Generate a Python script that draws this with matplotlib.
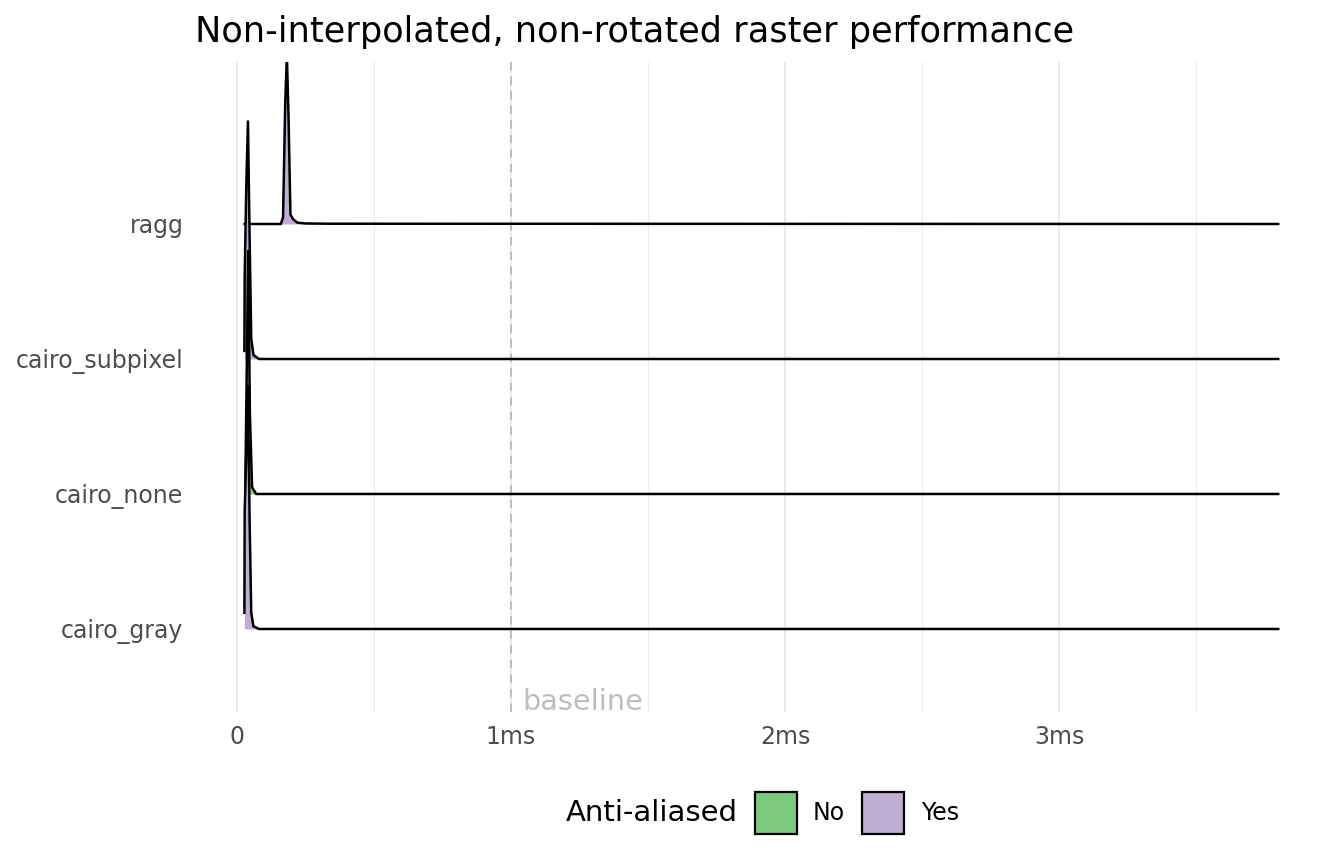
import matplotlib
matplotlib.use("Agg")
import matplotlib.pyplot as plt
from matplotlib.patches import Rectangle

# ridge rows (bottom to top) and fill group
rows = ["cairo_gray", "cairo_none", "cairo_subpixel", "ragg"]
anti_aliased = ["Yes", "No", "Yes", "Yes"]

# density outlines (x in ms, height in row units)
cairo_gray_x = [0.027, 0.028, 0.034, 0.040, 0.046, 0.052, 0.060, 0.080, 3.80]
cairo_gray_h = [0.12, 0.87, 1.30, 1.80, 0.80, 0.12, 0.02, 0.0, 0.0]
cairo_none_x = [0.030, 0.036, 0.041, 0.047, 0.055, 0.070, 3.80]
cairo_none_h = [0.0, 1.00, 1.80, 0.60, 0.05, 0.0, 0.0]
cairo_subpixel_x = [0.027, 0.028, 0.034, 0.040, 0.046, 0.052, 0.060, 0.080, 3.80]
cairo_subpixel_h = [0.06, 0.60, 1.30, 1.76, 0.90, 0.15, 0.03, 0.0, 0.0]
ragg_x = [0.028, 0.160, 0.168, 0.176, 0.182, 0.188, 0.195, 0.205, 0.220, 0.250, 0.330, 3.80]
ragg_h = [0.0, 0.0, 0.05, 0.90, 1.25, 0.80, 0.07, 0.035, 0.01, 0.004, 0.002, 0.0]

curves = {
    "cairo_gray": (cairo_gray_x, cairo_gray_h),
    "cairo_none": (cairo_none_x, cairo_none_h),
    "cairo_subpixel": (cairo_subpixel_x, cairo_subpixel_h),
    "ragg": (ragg_x, ragg_h),
}

x_ticks = [0, 1, 2, 3]
x_labels = ["0", "1ms", "2ms", "3ms"]
x_minor = [0.5, 1.5, 2.5, 3.5]
baseline_ms = 1.0

colors = {"No": "#7FC97F", "Yes": "#BEAED4"}

W, H = 1344, 865
fig = plt.figure(figsize=(W / 100, H / 100), dpi=100)
ax = fig.add_axes([193 / W, 1 - 712 / H, (1330 - 193) / W, (712 - 62) / H])

ax.set_xlim(-0.1606, 3.989)
ax.set_ylim(0.385, 5.2)

for xv in x_minor:
    ax.axvline(xv, color="#EBEBEB", lw=0.8, zorder=0)
for xv in x_ticks:
    ax.axvline(xv, color="#EBEBEB", lw=1.5, zorder=0)

ax.axvline(baseline_ms, color="#BEBEBE", lw=1.5, ls=(0, (4, 3)), zorder=1)
ax.text(baseline_ms + 0.04, 0.40, "baseline", color="#BEBEBE", fontsize=20.7,
        ha="left", va="baseline", zorder=1)

# draw top row first so lower ridges sit over it
for i in range(len(rows) - 1, -1, -1):
    name = rows[i]
    base = i + 1
    xs, hs = curves[name]
    ys = [base + h for h in hs]
    ax.fill_between(xs, base, ys, color=colors[anti_aliased[i]], lw=0, zorder=2 + (4 - i))
    ax.plot(xs, ys, color="black", lw=1.8, zorder=2.5 + (4 - i), solid_joinstyle="round")

ax.set_yticks(range(1, len(rows) + 1))
ax.set_yticklabels(rows)
ax.set_xticks(x_ticks)
ax.set_xticklabels(x_labels)
ax.tick_params(length=0, labelsize=17, labelcolor="#4D4D4D")
ax.tick_params(axis="y", pad=7)
ax.tick_params(axis="x", pad=9)
for s in ax.spines.values():
    s.set_visible(False)

fig.text(195 / W, 1 - 42 / H, "Non-interpolated, non-rotated raster performance",
         fontsize=25.3, ha="left", va="baseline")

# legend at the bottom
fig.text(566 / W, 1 - 813 / H, "Anti-aliased", fontsize=21, ha="left", va="center")
box = 42
for lab, x0, tx in [("No", 755, 813), ("Yes", 862, 921)]:
    fig.patches.append(Rectangle((x0 / W, 1 - 834 / H), box / W, box / H,
                                 transform=fig.transFigure, facecolor=colors[lab],
                                 edgecolor="black", lw=1.6))
    fig.text(tx / W, 1 - 813 / H, lab, fontsize=17, ha="left", va="center")

fig.savefig("out.png", dpi=100)
